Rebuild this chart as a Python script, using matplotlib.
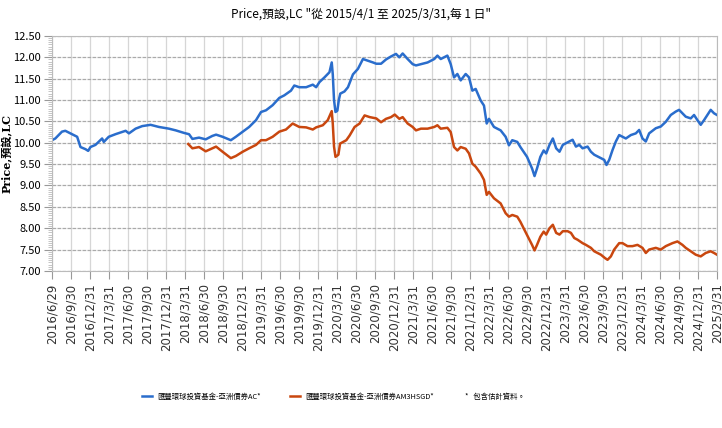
import numpy as np
import pandas as pd
import matplotlib
matplotlib.use("Agg")
import matplotlib.pyplot as plt
import matplotlib.dates as mdates
from matplotlib.ticker import MultipleLocator, FormatStrFormatter

#-------- datos --------
ac_dates = ["2016-06-29", "2016-07-15", "2016-08-16", "2016-09-01", "2016-10-03", "2016-10-28",
            "2016-11-13", "2016-12-07", "2016-12-20", "2016-12-31", "2017-01-24", "2017-02-25",
            "2017-03-05", "2017-03-29", "2017-04-30", "2017-06-18", "2017-07-04", "2017-08-05",
            "2017-09-06", "2017-10-16", "2017-11-25", "2018-01-12", "2018-02-14", "2018-03-26",
            "2018-04-19", "2018-05-05", "2018-06-06", "2018-07-08", "2018-08-09", "2018-08-27",
            "2018-09-27", "2018-11-06", "2018-11-30", "2019-01-02", "2019-02-02", "2019-03-07",
            "2019-03-31", "2019-04-24", "2019-05-26", "2019-06-27", "2019-07-21", "2019-08-22",
            "2019-09-07", "2019-10-01", "2019-11-03", "2019-12-05", "2019-12-21", "2020-01-06",
            "2020-01-30", "2020-02-23", "2020-03-05", "2020-03-10", "2020-03-16", "2020-03-23",
            "2020-04-01", "2020-04-08", "2020-04-15", "2020-05-05", "2020-05-22", "2020-06-15",
            "2020-07-09", "2020-08-02", "2020-08-26", "2020-09-19", "2020-10-05", "2020-10-28",
            "2020-11-21", "2020-12-15", "2021-01-08", "2021-01-24", "2021-02-09", "2021-03-05",
            "2021-03-29", "2021-04-14", "2021-05-08", "2021-06-09", "2021-07-11", "2021-07-26",
            "2021-08-11", "2021-09-12", "2021-09-28", "2021-10-14", "2021-10-30", "2021-11-15",
            "2021-12-09", "2021-12-25", "2022-01-10", "2022-01-26", "2022-02-19", "2022-03-07",
            "2022-03-20", "2022-03-31", "2022-04-24", "2022-05-26", "2022-06-19", "2022-07-05",
            "2022-07-21", "2022-08-14", "2022-08-29", "2022-09-30", "2022-10-24", "2022-11-05",
            "2022-11-17", "2022-12-03", "2022-12-19", "2022-12-31", "2023-01-16", "2023-02-01",
            "2023-02-17", "2023-03-05", "2023-03-21", "2023-04-05", "2023-04-21", "2023-05-07",
            "2023-05-23", "2023-06-08", "2023-06-24", "2023-07-18", "2023-08-03", "2023-08-19",
            "2023-09-04", "2023-09-20", "2023-10-06", "2023-10-17", "2023-10-30", "2023-11-15",
            "2023-12-01", "2023-12-17", "2024-01-02", "2024-01-18", "2024-02-11", "2024-03-06",
            "2024-03-22", "2024-04-07", "2024-04-23", "2024-05-09", "2024-06-10", "2024-07-04",
            "2024-07-28", "2024-08-21", "2024-09-14", "2024-09-30", "2024-10-16", "2024-11-01",
            "2024-11-25", "2024-12-11", "2024-12-27", "2025-01-12", "2025-01-28", "2025-02-13",
            "2025-03-01", "2025-03-17", "2025-03-31"]
ac_values = [10.06, 10.10, 10.26, 10.28, 10.20, 10.14,
             9.90, 9.85, 9.81, 9.90, 9.95, 10.10,
             10.02, 10.14, 10.20, 10.28, 10.22, 10.33,
             10.39, 10.42, 10.37, 10.33, 10.29, 10.23,
             10.20, 10.09, 10.12, 10.08, 10.16, 10.19,
             10.14, 10.06, 10.14, 10.26, 10.37, 10.53,
             10.72, 10.76, 10.88, 11.05, 11.11, 11.22,
             11.34, 11.30, 11.30, 11.36, 11.30, 11.42,
             11.53, 11.65, 11.88, 11.60, 11.00, 10.72,
             10.75, 11.00, 11.15, 11.20, 11.30, 11.60,
             11.73, 11.96, 11.92, 11.88, 11.85, 11.85,
             11.95, 12.02, 12.08, 12.00, 12.09, 11.96,
             11.84, 11.81, 11.84, 11.88, 11.96, 12.04,
             11.96, 12.04, 11.84, 11.53, 11.61, 11.46,
             11.61, 11.53, 11.22, 11.26, 10.99, 10.87,
             10.45, 10.56, 10.37, 10.29, 10.14, 9.94,
             10.06, 10.02, 9.90, 9.67, 9.40, 9.22,
             9.40, 9.67, 9.82, 9.75, 9.95, 10.10,
             9.87, 9.79, 9.95, 9.99, 10.03, 10.07,
             9.91, 9.95, 9.87, 9.91, 9.79, 9.72,
             9.68, 9.64, 9.60, 9.48, 9.60, 9.83,
             10.03, 10.18, 10.14, 10.10, 10.18, 10.22,
             10.30, 10.10, 10.03, 10.22, 10.34, 10.38,
             10.49, 10.65, 10.73, 10.77, 10.69, 10.61,
             10.57, 10.65, 10.53, 10.42, 10.53, 10.65,
             10.77, 10.69, 10.65]

hsgd_dates = ["2018-04-15", "2018-05-05", "2018-06-06", "2018-07-08", "2018-08-09", "2018-08-27",
              "2018-09-27", "2018-11-06", "2018-11-30", "2019-01-02", "2019-02-02", "2019-03-07",
              "2019-03-31", "2019-04-24", "2019-05-26", "2019-06-27", "2019-07-29", "2019-08-30",
              "2019-10-01", "2019-11-03", "2019-12-05", "2019-12-21", "2020-01-22", "2020-02-15",
              "2020-03-05", "2020-03-10", "2020-03-16", "2020-03-23", "2020-04-06", "2020-04-14",
              "2020-05-14", "2020-05-30", "2020-06-23", "2020-07-17", "2020-08-10", "2020-09-04",
              "2020-10-05", "2020-10-28", "2020-11-21", "2020-12-15", "2021-01-02", "2021-01-24",
              "2021-02-09", "2021-03-05", "2021-03-29", "2021-04-14", "2021-05-08", "2021-06-09",
              "2021-07-11", "2021-07-26", "2021-08-11", "2021-09-12", "2021-09-28", "2021-10-14",
              "2021-10-30", "2021-11-15", "2021-12-09", "2021-12-25", "2022-01-10", "2022-01-26",
              "2022-02-19", "2022-03-07", "2022-03-20", "2022-03-31", "2022-04-24", "2022-05-26",
              "2022-06-19", "2022-07-05", "2022-07-21", "2022-08-14", "2022-08-29", "2022-09-30",
              "2022-10-24", "2022-11-05", "2022-11-17", "2022-12-03", "2022-12-19", "2022-12-31",
              "2023-01-16", "2023-02-01", "2023-02-17", "2023-03-05", "2023-03-21", "2023-04-13",
              "2023-04-29", "2023-05-15", "2023-05-31", "2023-06-24", "2023-07-10", "2023-08-03",
              "2023-08-19", "2023-09-04", "2023-09-20", "2023-10-10", "2023-10-22", "2023-11-07",
              "2023-11-23", "2023-12-17", "2024-01-02", "2024-01-26", "2024-02-19", "2024-03-14",
              "2024-04-07", "2024-04-23", "2024-05-09", "2024-06-10", "2024-07-04", "2024-07-28",
              "2024-08-29", "2024-09-22", "2024-10-16", "2024-11-01", "2024-11-25", "2024-12-19",
              "2025-01-12", "2025-02-05", "2025-03-01", "2025-03-17", "2025-03-31"]
hsgd_values = [9.97, 9.87, 9.90, 9.80, 9.87, 9.91,
               9.79, 9.64, 9.69, 9.79, 9.87, 9.95,
               10.06, 10.06, 10.14, 10.26, 10.31, 10.45,
               10.37, 10.36, 10.31, 10.36, 10.41, 10.53,
               10.74, 10.45, 9.91, 9.67, 9.72, 9.98,
               10.06, 10.17, 10.37, 10.45, 10.64, 10.60,
               10.57, 10.48, 10.56, 10.60, 10.66, 10.56,
               10.60, 10.45, 10.37, 10.29, 10.33, 10.33,
               10.37, 10.41, 10.33, 10.35, 10.25, 9.90,
               9.82, 9.90, 9.86, 9.75, 9.51, 9.44,
               9.28, 9.13, 8.78, 8.85, 8.70, 8.58,
               8.35, 8.27, 8.31, 8.27, 8.15, 7.84,
               7.61, 7.48, 7.61, 7.80, 7.92, 7.85,
               8.00, 8.08, 7.89, 7.85, 7.93, 7.93,
               7.89, 7.77, 7.73, 7.65, 7.61, 7.54,
               7.46, 7.42, 7.38, 7.30, 7.26, 7.34,
               7.50, 7.65, 7.65, 7.58, 7.58, 7.61,
               7.54, 7.42, 7.50, 7.54, 7.50, 7.58,
               7.65, 7.69, 7.61, 7.54, 7.46, 7.38,
               7.34, 7.42, 7.46, 7.42, 7.38]

tick_labels = ["2016/6/29", "2016/9/30", "2016/12/31", "2017/3/31", "2017/6/30", "2017/9/30",
               "2017/12/31", "2018/3/31", "2018/6/30", "2018/9/30", "2018/12/31", "2019/3/31",
               "2019/6/30", "2019/9/30", "2019/12/31", "2020/3/31", "2020/6/30", "2020/9/30",
               "2020/12/31", "2021/3/31", "2021/6/30", "2021/9/30", "2021/12/31", "2022/3/31",
               "2022/6/30", "2022/9/30", "2022/12/31", "2023/3/31", "2023/6/30", "2023/9/30",
               "2023/12/31", "2024/3/31", "2024/6/30", "2024/9/30", "2024/12/31", "2025/3/31"]

ac_name = "匯豐環球投資基金-亞洲債券AC*"
hsgd_name = "匯豐環球投資基金-亞洲債券AM3HSGD*"
title = 'Price,預設,LC "從 2015/4/1 至 2025/3/31,每 1 日"'
note = "*   包含估計資料。"

#-------- estilo --------
cjk = ["Liberation Sans Narrow", "Noto Sans CJK TC", "DejaVu Sans"]
blue = "#2a6dcc"
orange = "#c9470f"

fig = plt.figure(figsize=(7.22, 4.28), dpi=100)
ax = fig.add_axes([0.072, 0.367, 0.921, 0.549])

ax.plot(pd.to_datetime(ac_dates), ac_values, color=blue, lw=1.8, label=ac_name)
ax.plot(pd.to_datetime(hsgd_dates), hsgd_values, color=orange, lw=1.8, label=hsgd_name)

tick_pos = pd.to_datetime(tick_labels, format="%Y/%m/%d")
ax.set_xlim(tick_pos[0], tick_pos[-1])
ax.set_ylim(7.0, 12.5)
ax.set_xticks(tick_pos)
ax.set_xticklabels(tick_labels, rotation=90, fontsize=8.5, color="#333333",
                   family="DejaVu Sans")
ax.yaxis.set_major_locator(MultipleLocator(0.5))
ax.yaxis.set_minor_locator(MultipleLocator(0.05))
ax.yaxis.set_major_formatter(FormatStrFormatter("%.2f"))
for lbl in ax.get_yticklabels():
    lbl.set_family(cjk)
    lbl.set_fontsize(8)

ax.tick_params(axis="x", length=6, color="#999999", pad=3)
ax.tick_params(axis="y", which="major", length=6, color="#999999", pad=2)
ax.tick_params(axis="y", which="minor", length=3, color="#bbbbbb")

ax.grid(axis="y", color="#aaaaaa", lw=0.9, ls=(0, (3, 1)))
ax.grid(axis="x", color="#d6d6d6", lw=0.9)
ax.set_axisbelow(True)
for s in ax.spines.values():
    s.set_color("#bbbbbb")

ax.set_ylabel("Price,預設,LC", fontsize=8, fontweight="bold",
              family=["DejaVu Serif", "Noto Sans CJK TC"])
ax.yaxis.set_label_coords(-0.058, 0.5)

fig.text(0.5, 0.968, title, ha="center", va="center", fontsize=8.5,
         family=cjk)

fig.legend(loc="center left", bbox_to_anchor=(0.192, 0.073), ncol=2, frameon=False,
           prop={"family": cjk, "size": 5.3}, handlelength=1.4, handletextpad=0.7,
           columnspacing=4.0, borderaxespad=0)
fig.text(0.644, 0.073, note, ha="left", va="center", fontsize=5.3, family=cjk)

fig.savefig("out.png", dpi=100)
